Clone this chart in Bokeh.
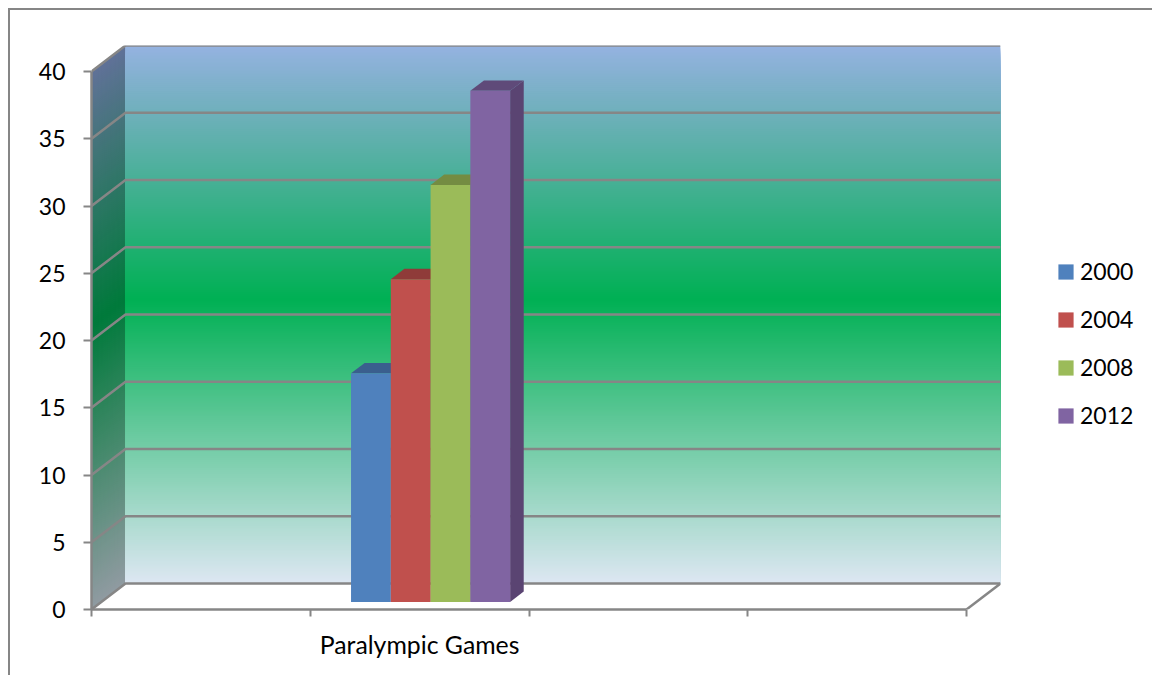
from bokeh.plotting import figure
from bokeh.models import Range1d, LinearAxis, FixedTicker, Legend, LegendItem
from bokeh.embed import file_html
from bokeh.resources import INLINE

# ---- data ----
category = "Paralympic Games"
years = ["2000", "2004", "2008", "2012"]
values = [17, 24, 31, 38]
y_ticks = [0, 5, 10, 15, 20, 25, 30, 35, 40]
front_colors = ["#4F81BD", "#C0504D", "#9BBB59", "#8064A2"]
top_colors = ["#3A5F8E", "#8F3B39", "#748C42", "#5F4A79"]
side_colors = ["#375A85", "#873836", "#6E853F", "#5A4472"]

# gradient stops of the wall: position from the top of the wall (0..1), colour
wall_stops = [(0.0, (148, 178, 224)), (0.12, (112, 176, 188)), (0.47, (0, 176, 84)), (1.0, (222, 231, 243))]
side_stops = [(0.0, (96, 114, 152)), (0.12, (72, 116, 126)), (0.47, (0, 122, 59)), (1.0, (145, 155, 162))]

GRID = "#868686"
FONT = "Lato"
FS = "23px"

# 3D projection in data units
X_MAX, Y_MAX = 4.0, 40.0
PX_X = 875 / X_MAX      # px per category
PX_Y = 538 / Y_MAX      # px per value
DX = 34.0 / PX_X        # depth offset of the back wall
DY = 26.0 / PX_Y
BAR_W = 1 / 5.5
D0, D1 = 0.29, 0.69     # depth of the bars inside the floor


def lerp(stops, t):
    for (a, ca), (b, cb) in zip(stops, stops[1:]):
        if t <= b:
            f = (t - a) / (b - a)
            return "#%02x%02x%02x" % tuple(round(u + (v - u) * f) for u, v in zip(ca, cb))
    return "#%02x%02x%02x" % stops[-1][1]


p = figure(width=1142, height=665, output_backend="svg", toolbar_location=None,
           x_range=Range1d(0, X_MAX + DX), y_range=Range1d(0, Y_MAX + DY),
           x_axis_location=None, y_axis_location=None,
           min_border_left=81, min_border_right=152, min_border_top=35, min_border_bottom=66,
           frame_width=909, frame_height=564, outline_line_color=None,
           background_fill_color="white", border_fill_color="white")
p.styles = {"border-left": f"2px solid {GRID}", "border-top": f"2px solid {GRID}",
            "margin-left": "8px", "margin-top": "8px"}
p.grid.visible = False

# back wall gradient, painted from top to floor so strips never show seams
N = 270
ts = [i / N for i in range(N)]
# left wall gradient first, the back wall then covers its inner edge
xs, ys, cs = [], [], []
for t in ts:
    v = Y_MAX * (1 - t)
    xs.append([0, DX, DX, 0])
    ys.append([v, v + DY, DY, 0])
    cs.append(lerp(side_stops, t))
p.patches(xs, ys, fill_color=cs, line_color=None)
p.quad(left=DX, right=X_MAX + DX, top=[DY + Y_MAX * (1 - t) for t in ts], bottom=DY,
       fill_color=[lerp(wall_stops, t) for t in ts], line_color=None)

# gridlines: back wall + left wall
for v in y_ticks:
    p.line([0, DX, X_MAX + DX], [v, v + DY, v + DY], line_color=GRID, line_width=2.5)
# floor right edge
p.line([X_MAX, X_MAX + DX], [0, DY], line_color=GRID, line_width=2.5)

# bars
c0 = 1.505 - 2 * BAR_W
renderers = []
for i, (yr, v) in enumerate(zip(years, values)):
    l, r = c0 + i * BAR_W, c0 + (i + 1) * BAR_W
    dx0, dx1 = D0 * DX, D1 * DX
    dy0, dy1 = D0 * DY, D1 * DY
    # side
    p.patch([r + dx0, r + dx1, r + dx1, r + dx0], [dy0, dy1, v + dy1, v + dy0],
            fill_color=side_colors[i], line_color=None)
    # top
    p.patch([l + dx0, r + dx0, r + dx1, l + dx1], [v + dy0, v + dy0, v + dy1, v + dy1],
            fill_color=top_colors[i], line_color=None)
    renderers.append(p.quad(left=[l + dx0], right=[r + dx0], bottom=[dy0], top=[v + dy0],
                            fill_color=front_colors[i], line_color=None))

# axes
yax = LinearAxis(ticker=FixedTicker(ticks=y_ticks), bounds=(0, Y_MAX),
                 axis_line_color=GRID, axis_line_width=2.5,
                 major_tick_line_color=GRID, major_tick_line_width=2, major_tick_out=8, major_tick_in=0,
                 minor_tick_line_color=None,
                 major_label_text_font=FONT, major_label_text_font_size=FS, major_label_text_color="#000000",
                 major_label_standoff=18)
p.add_layout(yax, "left")
xax = LinearAxis(ticker=FixedTicker(ticks=[1.5], minor_ticks=[0, 1, 2, 3, 4]),
                 major_label_overrides={1.5: category}, bounds=(0, X_MAX),
                 axis_line_color=GRID, axis_line_width=2.5,
                 major_tick_line_color=None, major_tick_out=0, major_tick_in=0,
                 minor_tick_line_color=GRID, minor_tick_line_width=2, minor_tick_out=7, minor_tick_in=0,
                 major_label_text_font=FONT, major_label_text_font_size="24.8px", major_label_text_color="#000000",
                 major_label_standoff=13)
p.add_layout(xax, "below")

legend = Legend(items=[LegendItem(label=y, renderers=[r]) for y, r in zip(years, renderers)],
                location=(56, 180), orientation="vertical", background_fill_alpha=0, border_line_color=None,
                padding=0, margin=0, spacing=20, glyph_width=19, glyph_height=19, label_standoff=5,
                label_text_font=FONT, label_text_font_size=FS, label_text_color="#000000", label_height=28)
p.add_layout(legend, "right")

open("out.html", "w").write(file_html(p, INLINE))
